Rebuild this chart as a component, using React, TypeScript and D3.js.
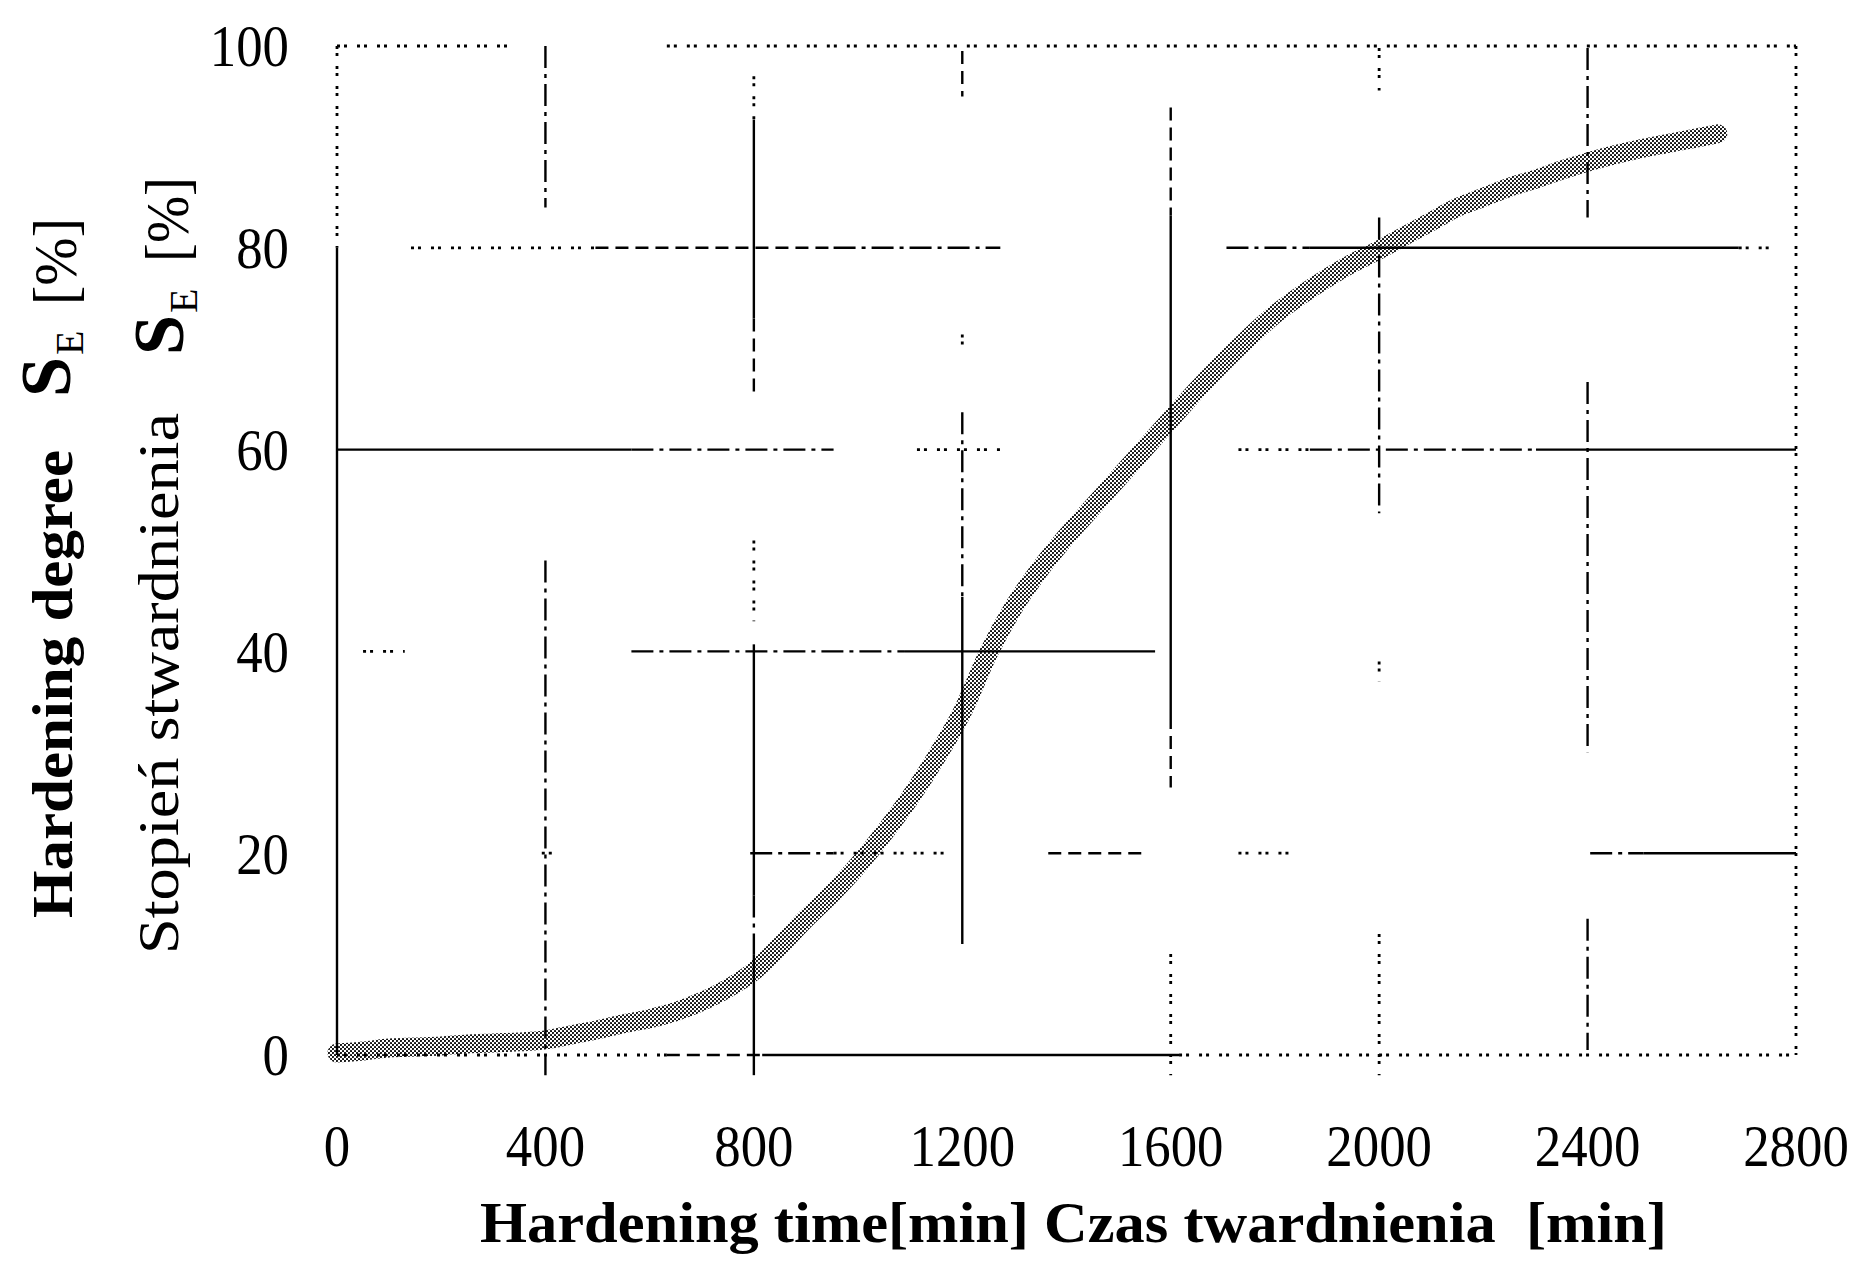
import React from "react";
import * as d3 from "d3";

const W = 1869;
const H = 1261;

// Axis ticks
const X_TICKS = [0, 400, 800, 1200, 1600, 2000, 2400, 2800];
const Y_TICKS = [0, 20, 40, 60, 80, 100];

// Hardening time [min]
const TIME_MIN = [
  0, 50, 100, 150, 200, 250, 300, 350, 400, 450, 500, 550, 600, 650, 700, 750,
  800, 850, 900, 950, 1000, 1050, 1100, 1150, 1200, 1250, 1300, 1350, 1400,
  1450, 1500, 1550, 1600, 1650, 1700, 1750, 1800, 1850, 1900, 1950, 2000,
  2050, 2100, 2150, 2200, 2250, 2300, 2350, 2400, 2450, 2500, 2550, 2600, 2650,
];

// Hardening degree S_E [%]
const HARDENING_PCT = [
  0.2, 0.4, 0.7, 0.8, 0.9, 1.1, 1.2, 1.3, 1.5, 2.0, 2.5, 3.1, 3.6, 4.3, 5.3,
  6.6, 8.3, 10.8, 13.5, 16.0, 18.8, 22.0, 25.5, 29.5, 34.0, 39.8, 44.5, 48.2,
  51.4, 54.3, 57.2, 60.1, 63.0, 65.9, 68.6, 71.1, 73.4, 75.3, 77.0, 78.5, 79.8,
  81.2, 82.6, 84.0, 85.0, 86.0, 86.8, 87.7, 88.5, 89.2, 89.8, 90.3, 90.8, 91.3,
];

// Grid line styling: which stretches of each grid line are drawn and how
// [grid value, from, to, stroke kind]
type Seg = [number, number, number, string];

const H_GRID_STYLE: Seg[] = [
  [100, 0, 336, "dot"],
  [100, 633, 2800, "dot"],
  [80, 142, 496, "dot"],
  [80, 496, 953, "dash"],
  [80, 953, 1273, "dashdot"],
  [80, 1707, 1867, "dashdot"],
  [80, 1867, 2690, "solid"],
  [80, 2690, 2760, "dot"],
  [60, 0, 565, "solid"],
  [60, 565, 953, "dashdot"],
  [60, 1113, 1273, "dot"],
  [60, 1730, 1867, "dot"],
  [60, 1867, 2301, "dashdot"],
  [60, 2301, 2800, "solid"],
  [40, 50, 130, "dot"],
  [40, 565, 1090, "dashdot"],
  [40, 1090, 1570, "solid"],
  [20, 393, 427, "dot"],
  [20, 793, 953, "dashdot"],
  [20, 953, 1182, "dot"],
  [20, 1365, 1547, "dash"],
  [20, 1730, 1845, "dot"],
  [20, 2405, 2507, "dashdot"],
  [20, 2507, 2800, "solid"],
  [0, 0, 633, "dot"],
  [0, 633, 816, "dash"],
  [0, 816, 1616, "solid"],
  [0, 1616, 2800, "dot"],
];

const V_GRID_STYLE: Seg[] = [
  [0, 100, 80, "dot"],
  [0, 80, 0, "solid"],
  [400, 100, 84, "dashdot"],
  [400, 49, -2, "dashdot"],
  [800, 97, 92.7, "dot"],
  [800, 92.7, 73, "solid"],
  [800, 73, 65.5, "dash"],
  [800, 51, 43, "dot"],
  [800, 40.7, 15.8, "solid"],
  [800, 15.8, 10, "dashdot"],
  [800, 10, -2, "solid"],
  [1200, 99.5, 95, "dash"],
  [1200, 71.4, 69.6, "dot"],
  [1200, 63.7, 45.4, "dashdot"],
  [1200, 45.4, 11, "solid"],
  [1600, 93.9, 83.2, "dash"],
  [1600, 83.2, 33.6, "solid"],
  [1600, 33.6, 26.5, "dash"],
  [1600, 10, -2, "dot"],
  [2000, 99.8, 95.6, "dot"],
  [2000, 83, 53.7, "dashdot"],
  [2000, 39, 37, "dot"],
  [2000, 12, -2, "dot"],
  [2400, 99.8, 83, "dashdot"],
  [2400, 66.7, 30, "dashdot"],
  [2400, 13.5, 0.5, "dashdot"],
  [2800, 100, 0, "dot"],
];

const DASH: Record<string, string | undefined> = {
  solid: undefined,
  dashdot: "22 6 4 6",
  dash: "13 7",
  dot: "3 4 3 10",
};

const FONT = "'Liberation Serif', 'Times New Roman', Times, serif";

export default function App() {
  const x = d3.scaleLinear().domain([0, 2800]).range([337, 1796]);
  const y = d3.scaleLinear().domain([0, 100]).range([1055, 46]);

  const points = TIME_MIN.map((t, i) => [t, HARDENING_PCT[i]] as [number, number]);
  const line = d3
    .line<[number, number]>()
    .x((d) => x(d[0]))
    .y((d) => y(d[1]))
    .curve(d3.curveMonotoneX);

  const segStyle = (kind: string) => ({
    stroke: "#000",
    strokeWidth: kind === "dot" ? 2.8 : 2.4,
    strokeDasharray: DASH[kind],
    fill: "none",
  });

  return (
    <svg
      width={W}
      height={H}
      viewBox={`0 0 ${W} ${H}`}
      style={{ position: "absolute", left: 0, top: 0, background: "#fff" }}
    >
      <defs>
        <pattern id="dither" width="4" height="4" patternUnits="userSpaceOnUse">
          <circle cx="1" cy="1" r="1.05" fill="#000" />
          <circle cx="3" cy="3" r="1.05" fill="#000" />
        </pattern>
      </defs>
      <rect width={W} height={H} fill="#fff" />

      {/* grid and frame */}
      <g>
        {H_GRID_STYLE.map(([v, a, b, k], i) => (
          <line key={"h" + i} x1={x(a)} x2={x(b)} y1={y(v)} y2={y(v)} {...segStyle(k)} />
        ))}
        {V_GRID_STYLE.map(([v, a, b, k], i) => (
          <line key={"v" + i} x1={x(v)} x2={x(v)} y1={y(a)} y2={y(b)} {...segStyle(k)} />
        ))}
      </g>

      {/* measured hardening curve */}
      <path
        d={line(points) || ""}
        fill="none"
        stroke="url(#dither)"
        strokeWidth={19}
        strokeLinecap="round"
        strokeLinejoin="round"
      />

      {/* y tick labels */}
      <g fontFamily={FONT} fontSize={60} fill="#000">
        {Y_TICKS.map((t) => (
          <text
            key={t}
            transform={`translate(289,${y(t)}) scale(0.88,1)`}
            textAnchor="end"
            dy="0.34em"
          >
            {t}
          </text>
        ))}
      </g>

      {/* x tick labels */}
      <g fontFamily={FONT} fontSize={60} fill="#000">
        {X_TICKS.map((t) => (
          <text
            key={t}
            transform={`translate(${x(t)},1166) scale(0.88,1)`}
            textAnchor="middle"
          >
            {t}
          </text>
        ))}
      </g>

      {/* x axis title */}
      <text
        x={480}
        y={1242}
        fontFamily={FONT}
        fontSize={58}
        textLength={1187}
        lengthAdjust="spacingAndGlyphs"
        fill="#000"
        style={{ whiteSpace: "pre" }}
      >
        <tspan fontWeight="bold">Hardening time[min] </tspan>
        <tspan fontWeight="600">{"Czas twardnienia\u00A0\u00A0[min]"}</tspan>
      </text>

      {/* y axis titles (English and Polish) */}
      <g fontFamily={FONT} fill="#000">
        <text
          transform="translate(72,918) rotate(-90)"
          fontSize={58}
          fontWeight="bold"
          textLength={468}
          lengthAdjust="spacingAndGlyphs"
        >
          Hardening degree
        </text>
        <text transform="translate(70,397) rotate(-90)" fontSize={72} fontWeight="bold">
          S
        </text>
        <text transform="translate(83,355) rotate(-90)" fontSize={40}>
          E
        </text>
        <text
          transform="translate(76,305) rotate(-90)"
          fontSize={62}
          textLength={87}
          lengthAdjust="spacingAndGlyphs"
        >
          [%]
        </text>

        <text
          transform="translate(178,954) rotate(-90)"
          fontSize={58}
          textLength={541}
          lengthAdjust="spacingAndGlyphs"
        >
          Stopień stwardnienia
        </text>
        <text transform="translate(183,355) rotate(-90)" fontSize={72} fontWeight="bold">
          S
        </text>
        <text transform="translate(197,313) rotate(-90)" fontSize={40}>
          E
        </text>
        <text
          transform="translate(188,262) rotate(-90)"
          fontSize={62}
          textLength={85}
          lengthAdjust="spacingAndGlyphs"
        >
          [%]
        </text>
      </g>
    </svg>
  );
}
